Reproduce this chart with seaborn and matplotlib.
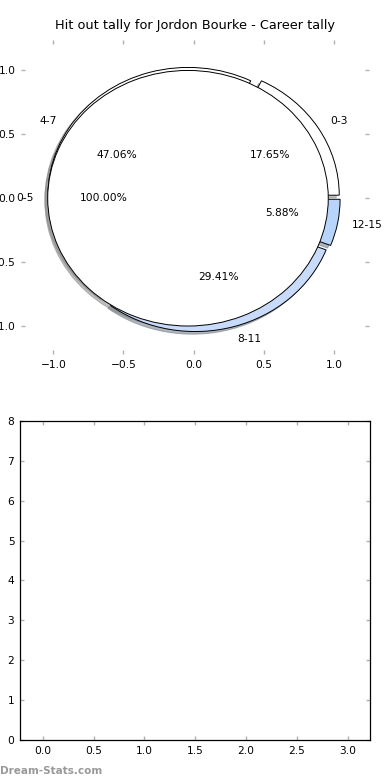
import matplotlib
matplotlib.use("Agg")
import matplotlib.pyplot as plt
import seaborn as sns

sns.set_style("white")
plt.rcParams['font.family'] = ['DejaVu Sans']
plt.rcParams['text.color'] = 'black'

# data
tally_labels = ["0-3", "4-7", "8-11", "12-15"]
tally_values = [3, 8, 5, 1]
tally_colors = ["#ffffff", "#ffffff", "#c8dbfa", "#b8d4fb"]
outer_labels = ["0-5"]
outer_values = [1]
title = "Hit out tally for Jordon Bourke - Career tally"
xticks_top = [-1.0, -0.5, 0.0, 0.5, 1.0]
yticks_top = [-1.0, -0.5, 0.0, 0.5, 1.0]
xticks_bottom = [0.0, 0.5, 1.0, 1.5, 2.0, 2.5, 3.0]
yticks_bottom = [0, 1, 2, 3, 4, 5, 6, 7, 8]

fig = plt.figure(figsize=(3.9, 7.8), dpi=100)
ax1 = fig.add_axes([0.054, 0.546, 0.892, 0.403])
ax2 = fig.add_axes([0.051, 0.0513, 0.898, 0.409])

fs = 7.7
wedgeprops = dict(edgecolor="black", linewidth=0.7)
shadow_props = dict(ox=-0.015, oy=-0.015, shade=0.5)
ax1.pie(tally_values, labels=tally_labels, colors=tally_colors,
        explode=[0.045] * len(tally_values), autopct="%.2f%%",
        shadow=shadow_props, startangle=0, wedgeprops=wedgeprops,
        textprops=dict(fontsize=fs, color="black"), frame=True)
ax1.pie(outer_values, labels=outer_labels, colors=["#ffffff"],
        explode=[0.04], autopct="%.2f%%", shadow=shadow_props, startangle=0,
        wedgeprops=wedgeprops, textprops=dict(fontsize=fs, color="black"),
        frame=True)
ax1.set_aspect("auto")
ax1.set_xlim(-1.23, 1.25)
ax1.set_ylim(-1.22, 1.24)
ax1.set_xticks(xticks_top)
ax1.set_yticks(yticks_top)
ax1.set_xticklabels([f"{v:.1f}".replace("-", "\u2212") for v in xticks_top])
ax1.set_yticklabels([f"{v:.1f}".replace("-", "\u2212") for v in yticks_top])
for s in ax1.spines.values():
    s.set_visible(False)
ax1.set_title(title, fontsize=9.3, pad=8, color="black")

ax2.set_xlim(-0.225, 3.22)
ax2.set_ylim(0, 8)
ax2.set_xticks(xticks_bottom)
ax2.set_yticks(yticks_bottom)
for s in ax2.spines.values():
    s.set_visible(True)
    s.set_color("black")
    s.set_linewidth(0.9)

for ax in (ax1, ax2):
    ax.tick_params(axis="both", which="both", direction="in", length=3,
                   width=1, color="#b0b0b0", labelsize=fs, labelcolor="black",
                   top=True, right=True, bottom=True, left=True, pad=4)

fig.text(0.0, 0.005, "Dream-Stats.com", fontsize=7.5, color="#999999",
         fontweight="bold", ha="left", va="bottom")

fig.savefig("out.png", dpi=100, facecolor="white")
